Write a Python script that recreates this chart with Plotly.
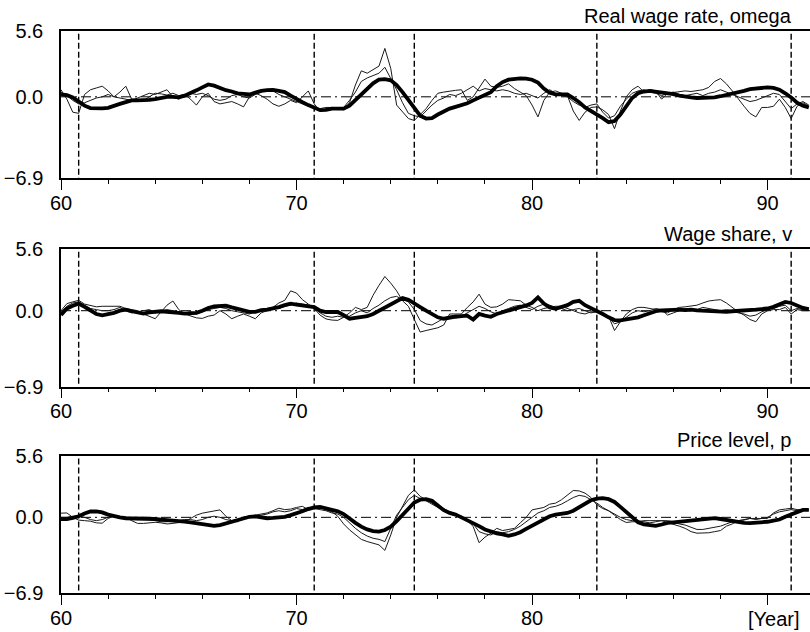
import plotly.graph_objects as go

# Quarterly time axis, 1960Q1 .. 1991Q4 (years given as two digits)
YEARS = [60 + 0.25 * k for k in range(128)]

# Reference dates marked by vertical dashed lines
CYCLE_DATES = [60.75, 70.75, 75.0, 82.75, 91.0]

# ---- Real wage rate, omega ----
omega_smooth = [
    0.2, 0.15, -0.05, -0.4, -0.75, -0.95, -1.0, -0.98, -0.93, -0.8, -0.6, -0.45, -0.3, -0.3, -0.3, -0.25,
    -0.2, -0.1, 0.0, 0.0, -0.05, 0.1, 0.3, 0.55, 0.8, 1.05, 0.95, 0.75, 0.56, 0.45, 0.3, 0.25,
    0.2, 0.35, 0.5, 0.56, 0.58, 0.5, 0.4, 0.1, -0.2, -0.45, -0.7, -0.95, -1.13, -1.1, -1.0, -1.0,
    -1.0, -0.75, -0.3, 0.2, 0.7, 1.15, 1.45, 1.5, 1.4, 1.0, 0.4, -0.3, -1.0, -1.6, -1.84, -1.8,
    -1.5, -1.25, -1.0, -0.85, -0.7, -0.55, -0.3, -0.05, 0.15, 0.4, 0.9, 1.25, 1.45, 1.55, 1.57, 1.55,
    1.45, 1.2, 0.7, 0.35, 0.2, 0.2, 0.2, -0.1, -0.45, -0.9, -1.2, -1.45, -1.8, -2.15, -2.05, -1.5,
    -0.8, -0.1, 0.3, 0.45, 0.5, 0.45, 0.4, 0.3, 0.23, 0.1, 0.0, -0.05, -0.1, -0.1, -0.1, -0.05,
    0.05, 0.15, 0.3, 0.4, 0.5, 0.65, 0.72, 0.8, 0.8, 0.75, 0.6, 0.3, -0.05, -0.5, -0.75, -0.9,
]
omega_a = [
    0.6, -0.2, -1.3, -1.4, 0.2, 0.6, 0.75, 0.9, 0.5, 0.0, 0.4, 0.9, -0.2, -0.2, -0.3, 0.0,
    0.3, 0.25, 0.15, 0.3, 0.1, 0.2, -0.2, -0.7, 0.0, 0.3, -0.4, -0.6, -0.5, -0.4, -0.6, -0.85,
    0.0, 0.3, 0.1, -0.2, -0.6, -0.8, -0.6, -0.3, -0.5, 0.0, 0.5, -0.6, -1.2, -1.15, -1.1, -1.0,
    -1.1, -0.5, 1.0, 2.2, 2.0, 2.3, 2.6, 4.1, 2.4, -0.7, -1.3, -1.84, -2.0, -1.5, -1.0, -0.3,
    0.3, 0.4, 0.5, 0.55, 0.6, -0.3, 0.0, 0.8, 1.5, 0.9, 0.8, 0.9, 1.1, 0.7, 0.4, 0.1,
    -0.7, -1.7, -0.3, 0.4, 0.5, 0.3, 0.1, -1.2, -2.0, -1.3, -0.9, -0.85, -1.1, -1.5, -2.7, -1.2,
    0.0, 0.6, 0.9, 0.4, 0.6, 0.5, -0.2, 0.3, 0.35, 0.4, 0.5, 0.45, 0.55, 0.6, 0.8, 1.3,
    1.55, 1.1, 0.5, -0.2, -0.8, -1.4, -1.7, -0.9, -0.9, -0.8, -0.2, -0.9, -1.84, -0.8, -0.5, -0.8,
]
omega_b = [
    0.4, 0.1, -0.3, -0.6, -0.5, -0.3, -0.1, 0.0, 0.2, 0.0, -0.1, -0.2, -0.3, -0.1, 0.1, 0.3,
    0.2, 0.4, 0.6, 0.0, -0.2, 0.1, 0.3, 0.2, 0.3, 0.1, -0.2, -0.3, -0.2, 0.1, 0.2, 0.0,
    -0.1, 0.2, 0.4, 0.6, 0.5, 0.2, 0.0, -0.2, -0.4, -0.6, -0.8, -0.9, -1.0, -0.9, -0.9, -1.0,
    -0.9, -0.3, 0.4, 1.3, 1.6, 1.8, 2.0, 2.5, 1.6, 0.6, -0.5, -1.4, -1.6, -1.7, -1.2, -0.7,
    -0.3, -0.1, 0.2, 0.1, 0.3, 0.6, 0.9, 0.5, 0.7, 0.6, 0.5, 0.6, 0.5, 0.3, 0.2, 0.3,
    0.1, -0.1, 0.3, 0.6, 0.3, 0.1, 0.0, -0.4, -0.7, -0.9, -0.7, -0.6, -1.3, -1.8, -1.6, -0.8,
    -0.2, 0.3, 0.5, 0.6, 0.4, 0.3, 0.1, 0.3, 0.4, 0.2, 0.1, 0.2, 0.3, 0.1, 0.3, 0.4,
    0.6, 0.4, 0.2, 0.0, -0.2, -0.4, -0.3, -0.1, 0.1, 0.3, 0.2, -0.4, -1.0, -0.6, -0.4, -0.7,
]

# ---- Wage share, v ----
v_smooth = [
    -0.4, 0.2, 0.45, 0.64, 0.35, 0.0, -0.3, -0.42, -0.35, -0.2, 0.0, 0.1, -0.05, -0.2, -0.27, -0.15,
    -0.06, -0.05, -0.1, -0.12, -0.2, -0.27, -0.25, -0.2, 0.0, 0.25, 0.4, 0.45, 0.45, 0.3, 0.15, 0.0,
    -0.1, -0.1, 0.05, 0.1, 0.2, 0.33, 0.5, 0.64, 0.55, 0.5, 0.45, 0.33, 0.0, -0.12, -0.12, -0.12,
    -0.4, -0.73, -0.65, -0.6, -0.5, -0.3, 0.0, 0.3, 0.6, 0.9, 1.15, 1.0, 0.7, 0.33, 0.0, -0.3,
    -0.6, -0.73, -0.6, -0.55, -0.5, -0.45, -0.8, -0.3, -0.45, -0.55, -0.3, -0.15, 0.05, 0.2, 0.35, 0.48,
    0.7, 1.2, 0.64, 0.3, 0.18, 0.35, 0.5, 0.8, 0.9, 0.5, 0.25, 0.03, -0.3, -0.6, -0.85, -0.88,
    -0.8, -0.73, -0.6, -0.42, -0.25, -0.05, 0.03, 0.05, 0.1, 0.1, 0.05, 0.1, 0.03, 0.0, -0.05, -0.1,
    -0.12, -0.1, -0.05, -0.03, 0.0, 0.05, 0.1, 0.15, 0.2, 0.35, 0.55, 0.8, 0.7, 0.45, 0.25, 0.15,
]
v_a = [
    0.0, 0.64, 0.8, 0.94, 0.6, 0.5, 0.35, 0.4, 0.4, 0.4, 0.4, 0.2, 0.1, 0.0, -0.3, -0.5,
    -0.73, -0.1, 0.5, 0.88, 0.1, -0.3, -0.45, -0.65, -0.7, -0.5, -0.4, 0.0, -0.3, -0.73, -0.5, -0.3,
    -0.5, -0.73, -0.2, 0.0, 0.3, 0.7, 0.94, 1.8, 1.6, 1.0, 0.6, 0.2, -0.4, -0.75, -0.85, -0.88,
    -0.6, -0.2, 0.3, 0.1, 0.3, 1.4, 2.3, 3.1, 2.5, 1.8, 0.9, 0.4, -0.8, -1.94, -1.8, -1.64,
    -1.55, -1.3, -0.3, -0.3, -0.3, 0.3, 0.8, 1.5, 0.6, 0.3, 0.35, 0.6, 1.0, 0.95, 0.9, 0.5,
    0.3, 0.0, 0.2, 0.3, 0.4, 0.4, 0.2, 0.0, -0.2, -0.3, -0.1, -0.1, -0.2, -0.5, -1.8, -1.0,
    -0.3, 0.1, 0.3, 0.3, 0.2, 0.1, -0.1, -0.2, 0.1, 0.3, 0.35, 0.4, 0.5, 0.7, 0.88, 0.95,
    1.0, 0.7, 0.3, -0.1, -0.4, -0.8, -1.0, -0.3, 0.0, 0.1, 0.1, 0.3, -0.3, 0.1, 0.0, 0.0,
]
v_b = [
    -0.1, 0.4, 0.7, 0.8, 0.5, 0.2, 0.1, 0.0, 0.0, 0.1, 0.3, 0.0, -0.2, -0.1, 0.0, 0.1,
    -0.2, 0.0, 0.1, 0.0, -0.1, -0.2, -0.1, -0.3, -0.1, 0.1, 0.2, 0.3, 0.2, 0.0, -0.1, -0.2,
    -0.3, -0.1, 0.0, 0.2, 0.3, 0.2, 0.4, 0.5, 0.7, 0.6, 0.5, 0.3, -0.2, -0.5, -0.6, -0.5,
    -0.6, -0.5, -0.2, 0.0, -0.2, 0.2, 0.5, 0.9, 1.2, 1.3, 1.0, 0.8, 0.1, -0.9, -1.2, -1.3,
    -1.0, -0.7, -0.5, -0.4, -0.5, -0.2, 0.1, 0.4, 0.2, -0.1, -0.3, 0.0, 0.2, 0.4, 0.5, 0.3,
    0.1, 0.4, 0.6, 0.5, 0.3, 0.2, 0.0, 0.1, 0.2, 0.0, -0.2, -0.1, -0.4, -0.6, -1.2, -1.0,
    -0.6, -0.2, 0.0, -0.1, 0.0, 0.2, 0.1, -0.4, -0.2, 0.0, 0.2, 0.1, 0.1, 0.3, 0.2, 0.1,
    0.0, 0.1, 0.0, -0.2, -0.3, -0.5, -0.4, -0.1, 0.1, 0.2, 0.4, 0.5, 0.0, 0.2, 0.1, 0.1,
]

# ---- Price level, p ----
p_smooth = [
    -0.17, -0.17, -0.05, 0.1, 0.35, 0.53, 0.55, 0.45, 0.25, 0.1, 0.0, -0.08, -0.08, -0.08, -0.08, -0.1,
    -0.15, -0.2, -0.23, -0.28, -0.33, -0.38, -0.45, -0.55, -0.65, -0.75, -0.77, -0.7, -0.55, -0.4, -0.25, -0.1,
    0.05, 0.08, 0.0, -0.08, -0.05, 0.0, 0.05, 0.2, 0.35, 0.55, 0.75, 0.9, 0.95, 0.8, 0.65, 0.55,
    0.3, -0.15, -0.5, -0.85, -1.1, -1.25, -1.29, -1.15, -0.85, -0.35, 0.2, 0.8, 1.35, 1.6, 1.65, 1.5,
    1.1, 0.65, 0.4, 0.25, 0.0, -0.25, -0.5, -0.8, -1.1, -1.3, -1.45, -1.55, -1.68, -1.55, -1.35, -1.05,
    -0.75, -0.4, -0.1, 0.1, 0.25, 0.35, 0.4, 0.6, 0.9, 1.25, 1.55, 1.7, 1.74, 1.65, 1.4, 0.95,
    0.5, 0.0, -0.45, -0.65, -0.75, -0.77, -0.65, -0.5, -0.45, -0.4, -0.35, -0.3, -0.25, -0.15, -0.08, -0.08,
    -0.15, -0.25, -0.32, -0.4, -0.5, -0.53, -0.5, -0.47, -0.4, -0.3, -0.2, 0.05, 0.25, 0.5, 0.68, 0.68,
]
p_a = [
    0.38, 0.4, 0.0, -0.25, -0.3, -0.35, -0.5, -0.53, -0.1, 0.1, 0.05, 0.0, -0.3, -0.55, -0.55, -0.5,
    -0.45, -0.5, -0.6, -0.55, -0.5, -0.4, -0.1, 0.2, 0.38, 0.5, 0.6, 0.68, 0.1, -0.3, -0.4, 0.0,
    0.1, 0.2, 0.3, 0.4, 0.6, 0.83, 0.7, 0.75, 0.9, 1.0, 0.7, 1.0, 0.9, 0.7, 0.5, 0.1,
    -0.6, -1.14, -1.6, -2.0, -2.2, -2.35, -2.5, -3.0, -1.6, 0.0, 1.0, 2.0, 2.5, 1.9, 1.6, 1.3,
    1.0, 0.8, 0.5, 0.3, 0.1, -0.3, -0.83, -2.3, -1.8, -1.44, -1.0, -1.2, -1.1, -1.0, -0.5, 0.0,
    0.68, 0.8, 0.9, 1.2, 1.29, 1.6, 2.0, 2.44, 2.4, 2.2, 1.8, 1.14, 0.8, 0.6, 0.2, -0.2,
    -0.47, -0.4, -0.4, -0.3, -0.3, -0.3, -0.3, -0.47, -0.6, -0.8, -1.0, -1.3, -1.44, -1.44, -1.4, -1.3,
    -1.2, -0.8, -0.6, -0.3, -0.25, -0.1, -0.1, -0.1, -0.1, 0.4, 0.68, 0.75, 0.83, 0.7, 0.68, 0.68,
]
p_b = [
    0.0, 0.0, 0.1, 0.1, 0.0, -0.2, -0.3, -0.2, 0.0, 0.1, 0.0, -0.1, -0.1, -0.2, -0.1, -0.2,
    -0.3, -0.4, -0.4, -0.3, -0.3, -0.2, -0.2, -0.3, -0.2, 0.0, 0.1, 0.0, -0.2, -0.3, -0.2, 0.0,
    0.1, 0.1, 0.2, 0.3, 0.5, 0.6, 0.5, 0.6, 0.8, 0.7, 0.9, 0.8, 0.7, 0.6, 0.4, 0.3,
    0.0, -0.5, -1.0, -1.4, -1.7, -1.9, -2.0, -2.2, -1.0, 0.2, 0.9, 1.6, 2.0, 1.7, 1.5, 1.2,
    0.9, 0.6, 0.4, 0.3, 0.1, -0.2, -0.6, -1.3, -1.5, -1.6, -1.3, -1.4, -1.3, -1.1, -0.8, -0.4,
    0.0, 0.4, 0.6, 0.9, 1.0, 1.2, 1.5, 1.8, 2.0, 1.9, 1.6, 1.3, 0.9, 0.6, 0.3, 0.0,
    -0.2, -0.3, -0.3, -0.4, -0.5, -0.4, -0.3, -0.3, -0.4, -0.6, -0.7, -0.9, -1.1, -1.1, -1.0, -0.9,
    -0.8, -0.6, -0.4, -0.3, -0.2, -0.1, -0.2, -0.1, 0.0, 0.3, 0.5, 0.6, 0.7, 0.6, 0.6, 0.7,
]

PANELS = [
    ("Real wage rate, omega", omega_a, omega_b, omega_smooth),
    ("Wage share, v", v_a, v_b, v_smooth),
    ("Price level, p", p_a, p_b, p_smooth),
]

Y_MIN, Y_MAX = -6.9, 5.6
X_RANGE = [60, 91.8]
FONT = "Liberation Sans, Arial, Helvetica, sans-serif"
H = 632.0

# Panel boxes in pixels from the top of the page: (top, bottom)
BOXES = [(30.7, 178.3), (249.0, 386.7), (455.7, 593.3)]
TITLE_Y = [15.5, 234.0, 440.0]

fig = go.Figure()
layout = dict(
    width=810, height=632,
    margin=dict(l=61, r=0, t=0, b=0, autoexpand=False),
    paper_bgcolor="white", plot_bgcolor="white",
    showlegend=False,
    font=dict(family=FONT, size=20, color="black"),
    shapes=[], annotations=[],
)

for i, (title, thin_a, thin_b, smooth) in enumerate(PANELS):
    n = i + 1
    xa = "x" if n == 1 else f"x{n}"
    ya = "y" if n == 1 else f"y{n}"
    for series in (thin_a, thin_b):
        fig.add_trace(go.Scatter(x=YEARS, y=series, mode="lines", xaxis=xa, yaxis=ya,
                                 line=dict(color="#1a1a1a", width=1), hoverinfo="skip"))
    fig.add_trace(go.Scatter(x=YEARS, y=smooth, mode="lines", xaxis=xa, yaxis=ya,
                             line=dict(color="black", width=3.8), hoverinfo="skip"))

    top, bot = BOXES[i]
    dom = [1 - bot / H, 1 - top / H]
    last = n == 3
    layout[f"xaxis{'' if n == 1 else n}"] = dict(
        domain=[0, 1], anchor=ya, range=X_RANGE, automargin=False,
        tickvals=[60, 70, 80, 90],
        ticktext=["60", "70", "80", ""] if last else ["60", "70", "80", "90"],
        ticks="outside", ticklen=10, tickwidth=1.3, tickcolor="black",
        minor=dict(dtick=2, tick0=60, ticks="outside", ticklen=4, tickwidth=1.3, tickcolor="black"),
        showline=True, linecolor="black", linewidth=1.5, mirror=True,
        showgrid=False, zeroline=False, ticklabelstandoff=-4,
        tickfont=dict(family=FONT, size=20, color="black"),
    )
    layout[f"yaxis{'' if n == 1 else n}"] = dict(
        domain=dom, anchor=xa, range=[Y_MIN, Y_MAX], automargin=False,
        tickvals=[Y_MIN, 0, Y_MAX], ticktext=["\u22126.9", "0.0", "5.6"],
        ticks="", showline=True, linecolor="black", linewidth=1.5, mirror=False,
        showgrid=False, zeroline=False, ticklabelstandoff=12,
        tickfont=dict(family=FONT, size=20, color="black"),
    )
    # zero reference line
    layout["shapes"].append(dict(type="line", xref=f"{xa} domain", yref=ya,
                                 x0=0, x1=1, y0=0, y1=0, layer="below",
                                 line=dict(color="black", width=1, dash="10px,4px,2px,4px")))
    # dated markers
    for d in CYCLE_DATES:
        layout["shapes"].append(dict(type="line", xref=xa, yref=f"{ya} domain",
                                     x0=d, x1=d, y0=0.98, y1=0, layer="below",
                                     line=dict(color="black", width=1.4, dash="6px,3px")))
    layout["annotations"].append(dict(text=title, xref="paper", yref="paper",
                                      x=(794 - 61) / 749, y=1 - TITLE_Y[i] / H,
                                      xanchor="right", yanchor="middle", showarrow=False,
                                      font=dict(family=FONT, size=20, color="black")))

layout["annotations"].append(dict(text="[Year]", xref="paper", yref="paper",
                                  x=(802 - 61) / 749, y=1 - 619 / H,
                                  xanchor="right", yanchor="middle", showarrow=False,
                                  font=dict(family=FONT, size=20, color="black")))

fig.update_layout(**layout)
fig.write_html("out.html")
